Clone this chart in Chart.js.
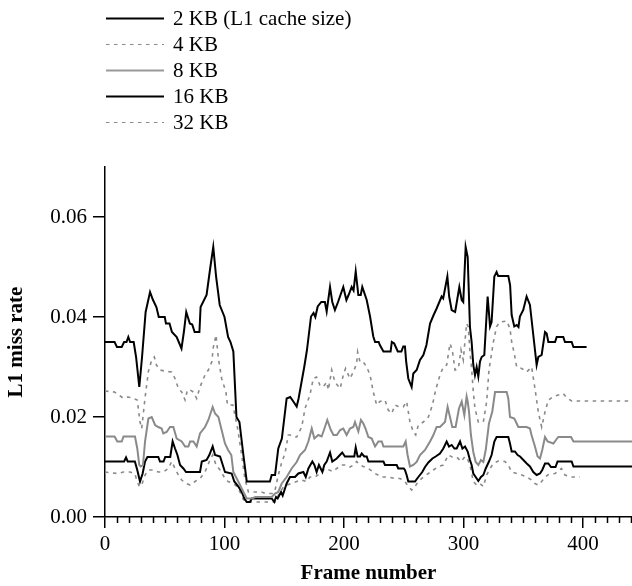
<!DOCTYPE html>
<html>
<head>
<meta charset="utf-8">
<script src="https://cdn.jsdelivr.net/npm/chart.js@4/dist/chart.umd.min.js"></script>
<style>
  html, body { margin: 0; padding: 0; background: #fff; }
  canvas { display: block; }
</style>
</head>
<body>
<canvas id="c" width="632" height="586"></canvas>
<script>
// ---- data ----
const seriesLabels = ["2 KB (L1 cache size)", "4 KB", "8 KB", "16 KB", "32 KB"];
const xTickValues = [0, 100, 200, 300, 400];
const yTickValues = [0.00, 0.02, 0.04, 0.06];

const frames2KB = [0,8,10,14,16,18,19.5,21,24,26,28.7,31,34,37.7,40,43,45,50,51,54,56,60,64,66,68,71,73,75,79,80,85,88,90.6,93,96,100,103,105,107.4,110,112.5,115.8,118.6,138,139.5,142.3,145,148,152,155,157.6,160.4,162,166.8,169,172.4,174.5,176,178,181,184,185.5,188.3,190.2,192.4,195,199.4,202,204,206.4,208,209.8,212,214,215.3,219,221.8,224.5,226,229,230,233,239,240,242,245,248,249.6,251,252,253.8,256.6,258,260.8,263.6,266.4,269,272,275,277.5,281.7,283,286.5,288,290.1,293,296.5,298.5,299.8,301.8,303.5,305.4,306.8,308.2,309.6,311,312.4,313.8,315.2,317.4,320.2,322.2,323.5,325.8,327.7,329,337.5,339,340.3,342.5,344.5,346,347.2,350,352.8,355.6,358.4,361.2,362.6,365.4,368.2,369.6,371,376.6,378,383.5,384.9,390.5,392,403];
const miss2KB = [0.035,0.035,0.034,0.034,0.035,0.035,0.036,0.035,0.035,0.032,0.026,0.032,0.041,0.045,0.0435,0.042,0.040,0.040,0.0387,0.0387,0.037,0.036,0.0337,0.037,0.041,0.0387,0.0385,0.037,0.037,0.042,0.0444,0.0497,0.054,0.048,0.0424,0.040,0.036,0.035,0.0331,0.020,0.019,0.0124,0.0071,0.0071,0.0084,0.0084,0.0137,0.0157,0.0237,0.024,0.0231,0.0221,0.0237,0.0301,0.0334,0.0401,0.0408,0.040,0.0421,0.043,0.043,0.0411,0.046,0.043,0.0414,0.043,0.046,0.0434,0.0445,0.046,0.0453,0.0491,0.0444,0.0444,0.046,0.0434,0.0401,0.0361,0.035,0.035,0.0344,0.0331,0.0331,0.035,0.0347,0.0331,0.0331,0.0341,0.0341,0.0311,0.0277,0.026,0.0287,0.0294,0.0314,0.0324,0.0344,0.0387,0.0404,0.0417,0.0441,0.0437,0.0481,0.0441,0.0414,0.041,0.046,0.0434,0.043,0.054,0.052,0.038,0.035,0.0304,0.0284,0.030,0.0281,0.0311,0.032,0.0324,0.0441,0.0381,0.039,0.0481,0.049,0.0482,0.0482,0.0464,0.0404,0.0381,0.0384,0.038,0.0401,0.0414,0.0441,0.0424,0.0364,0.0304,0.032,0.0324,0.037,0.0367,0.035,0.035,0.036,0.036,0.035,0.035,0.034,0.034];

const frames4KB = [0,8,11,15,19,23,27,29.3,30.7,33.5,36.3,39.1,41.3,43,46,51.6,55.8,58.6,61.4,64.2,67,69,71.2,74,76.7,79.5,83.7,86.5,89.3,90.7,92.9,94.9,97.6,101.2,102.5,107,111,114,117,120,131,134,140,142,145,148,150.6,153.4,155,157.6,160.4,164.6,167.4,171.5,174.3,177,179.8,182.6,185.5,186.9,189.7,192.4,196.8,199.4,201.3,205,207.8,210.6,211.4,213.4,216.2,219,221.8,224.5,227.3,230,234.3,237,239.9,242.7,245.4,249.6,252.4,255.2,258,260,262.2,266.4,270.6,274,276.7,280.3,283.1,285.9,288.7,290.6,292.9,295.7,297.9,299.8,302.6,304,305.4,306.8,308.2,309.6,312.4,316.6,319.4,321.3,325,327.7,330.5,336.1,338.9,340.3,342.5,344.5,348.7,352.9,357,359.8,362.6,365.4,368.2,371,375.2,379.3,383.4,386.2,390.5,441];
const miss4KB = [0.0252,0.025,0.0245,0.0238,0.024,0.0238,0.0234,0.019,0.0177,0.0238,0.0291,0.0314,0.032,0.0304,0.0294,0.0291,0.029,0.0277,0.0257,0.025,0.0234,0.0254,0.0254,0.025,0.0237,0.026,0.0284,0.0294,0.031,0.034,0.0364,0.0317,0.0277,0.025,0.0224,0.0224,0.0177,0.013,0.0077,0.005,0.005,0.0047,0.0047,0.005,0.0084,0.011,0.0127,0.0164,0.0164,0.016,0.016,0.018,0.0217,0.0244,0.0277,0.028,0.0264,0.026,0.027,0.0254,0.0294,0.027,0.0257,0.0284,0.0297,0.0277,0.029,0.0307,0.033,0.031,0.031,0.030,0.0284,0.025,0.0224,0.0231,0.0234,0.0214,0.0207,0.0224,0.0221,0.022,0.0231,0.019,0.017,0.0164,0.0184,0.019,0.020,0.0224,0.0254,0.0284,0.030,0.0304,0.0347,0.0334,0.0294,0.0297,0.0334,0.0314,0.0387,0.038,0.033,0.0297,0.025,0.0217,0.019,0.019,0.0231,0.0294,0.035,0.0381,0.039,0.0392,0.0377,0.035,0.0327,0.030,0.0297,0.029,0.030,0.0257,0.021,0.018,0.021,0.0234,0.0241,0.0244,0.0247,0.0239,0.0232,0.0232];

const frames8KB = [0,8,10.3,14,15.5,25.1,27,28.7,30,31.8,33.5,36.3,39.1,41.9,44.6,47.4,48.8,51.6,54.4,57.2,60,64.2,67,69.8,71.2,74,76.7,79.5,83.7,86.5,90.1,92.1,94.9,97.6,100.4,103,105.7,107.4,110.2,113,115.8,118.6,122.8,126,139.5,142.3,145,147.9,152,156.2,160.4,163.2,167.4,170.2,173,175.2,178.5,181.3,183.2,186,189,191.2,194,196.8,199.4,202.2,205,207.8,209.2,212,214.2,216.2,218,220.4,223.2,226,228.8,231.6,233,249.6,251.6,253.2,255.2,258,260.8,263.6,267.8,272,274.8,277.5,280.3,284.5,286.7,288.7,290.6,293.4,296.2,298.5,300.7,302.6,303.5,304.6,306.2,308.2,310.2,312.4,314.6,316.6,318.6,321.3,324.1,326.4,336.1,337.5,338.9,342.5,344.5,345.9,352.9,355.6,356.9,359.8,362,364,365.9,368.2,370.4,375.2,378,379.3,390,392,441];
const miss8KB = [0.0161,0.0161,0.0151,0.0151,0.0161,0.0161,0.0137,0.0104,0.0101,0.0104,0.0151,0.0197,0.020,0.0184,0.018,0.0177,0.0167,0.017,0.018,0.018,0.0157,0.0151,0.0141,0.0141,0.0151,0.0151,0.0141,0.0167,0.018,0.0194,0.022,0.0207,0.020,0.0174,0.0147,0.0134,0.0124,0.009,0.0077,0.0064,0.005,0.0037,0.0037,0.004,0.004,0.0047,0.005,0.0067,0.008,0.0097,0.011,0.0124,0.0134,0.0151,0.0177,0.0157,0.0164,0.0161,0.0174,0.0194,0.0174,0.0164,0.0164,0.0174,0.0177,0.0164,0.0177,0.018,0.019,0.0171,0.0194,0.0187,0.0177,0.016,0.0157,0.0141,0.0151,0.0151,0.0141,0.0141,0.0151,0.0124,0.0101,0.0104,0.011,0.0124,0.0134,0.0151,0.0164,0.018,0.018,0.019,0.022,0.020,0.018,0.018,0.0217,0.0231,0.0204,0.0241,0.0231,0.0211,0.0164,0.013,0.011,0.0104,0.0114,0.011,0.0134,0.0187,0.0211,0.025,0.025,0.0237,0.020,0.0197,0.0187,0.018,0.018,0.0177,0.0164,0.0141,0.0121,0.0117,0.0134,0.016,0.0151,0.0147,0.0156,0.016,0.016,0.0151,0.0151];

const frames16KB = [0,16,17.6,19,25,27,29.3,31.5,33.5,35.5,44.6,46,49,50.4,54.6,56.6,58.6,60.6,62.8,65.6,67.8,79.5,81,85,87.3,90.1,92.1,96.3,100.4,106,108.2,111.6,114.4,116.6,118.6,121.4,122.8,139.5,141.7,143.1,144.5,147.3,148.7,152,154.8,159,161.8,166,168,170.2,173.5,175.2,177.1,179,181.9,183.5,185.5,188.3,190.2,193.9,196.6,198.5,200.8,208.6,209.8,211.4,213.4,214.8,217,219,220.4,233,234.3,244.1,245.4,250,251,252.4,253.8,259.4,262.2,265.5,267.8,270.6,274,276.7,280.3,283.1,285.9,287.9,290.1,292.4,294.3,297.1,299.1,301.3,303.5,305.4,306.8,308.2,310.2,312.4,314.6,316.6,318.6,321.3,323.5,325.8,327.7,337.5,338.9,340.3,343,345.3,347.3,350.1,352.9,355.6,358.4,361.2,364,365.9,368.2,371,373.2,377,378.7,390.5,392,441];
const miss16KB = [0.0111,0.0111,0.0119,0.0111,0.0111,0.0094,0.0071,0.0087,0.0111,0.012,0.012,0.0111,0.0111,0.012,0.012,0.0151,0.0137,0.0124,0.0104,0.0097,0.009,0.009,0.0111,0.0114,0.0124,0.0141,0.0124,0.0121,0.009,0.0087,0.0071,0.0061,0.005,0.0037,0.003,0.003,0.0037,0.0037,0.003,0.004,0.0037,0.005,0.0043,0.0067,0.008,0.008,0.0087,0.009,0.008,0.0097,0.0111,0.0104,0.009,0.0104,0.009,0.0104,0.0111,0.0129,0.0111,0.0117,0.0124,0.0129,0.0121,0.0121,0.0139,0.0121,0.0121,0.0127,0.0121,0.0121,0.0111,0.0111,0.0104,0.0104,0.0097,0.0097,0.0094,0.0084,0.0071,0.0071,0.008,0.009,0.010,0.0109,0.0117,0.0121,0.0127,0.0137,0.0151,0.0141,0.0144,0.0137,0.0137,0.0151,0.0137,0.0141,0.0131,0.0114,0.0104,0.0087,0.008,0.0072,0.008,0.0084,0.0097,0.0111,0.0124,0.0151,0.016,0.016,0.0147,0.0131,0.0131,0.0124,0.0121,0.0114,0.0107,0.0101,0.009,0.0084,0.0087,0.0094,0.0107,0.0107,0.010,0.010,0.0111,0.0111,0.0101,0.0101];

const frames32KB = [0,6,11,15.5,21,25,27,28.7,30.7,33.5,36.3,40.5,44.6,48.8,53,55.8,58.6,61.4,64.2,67.8,71.2,75.3,79.5,83.7,87.3,90.1,92.9,96.3,100.4,103,107.4,110.2,113,115.8,118.6,142.3,143.7,146.5,149.3,152,156.2,160.4,164.6,168.8,171.5,175.7,179.9,184,187.7,191,193.9,198,202,205,208,210.6,213.4,216.2,220.4,226,231.6,237.1,242.7,246.9,251,253.8,256.6,259.4,262.2,266.4,270.6,274.8,278.9,283.1,287.3,290.6,294.3,297.9,301.3,303,305.4,308.2,311,313.8,316.6,319.4,322.2,325,329.1,334.7,337.5,340.3,344.5,348.7,352.9,357,359.8,362.6,365.4,368.2,371,376.6,382,384.9,390.5,397.4];
const miss32KB = [0.009,0.0088,0.0087,0.009,0.009,0.0086,0.0071,0.0061,0.0064,0.0084,0.0094,0.0094,0.009,0.009,0.0097,0.0111,0.0097,0.0084,0.0074,0.0067,0.0064,0.0071,0.0077,0.009,0.0111,0.0124,0.0104,0.0094,0.0077,0.0071,0.0067,0.0061,0.005,0.0035,0.003,0.003,0.0037,0.005,0.006,0.0064,0.0067,0.0071,0.0074,0.0071,0.008,0.008,0.0087,0.0097,0.0094,0.0091,0.0097,0.0104,0.0104,0.010,0.0104,0.0111,0.0104,0.0101,0.0097,0.0087,0.008,0.008,0.0077,0.0077,0.0071,0.0061,0.0054,0.0061,0.0071,0.008,0.0087,0.0094,0.0101,0.0104,0.0124,0.012,0.012,0.0111,0.0121,0.0118,0.0104,0.0071,0.0064,0.0067,0.0061,0.0084,0.0097,0.0107,0.0112,0.0111,0.0104,0.009,0.0087,0.0084,0.008,0.0074,0.0067,0.0064,0.0071,0.008,0.0085,0.0087,0.0097,0.0084,0.008,0.008];

// ---- build ----
const FONT = "'Liberation Serif', 'Times New Roman', serif";
const GRAY = '#8a8a8a';
const DASH = [3.5, 4.5];

function pts(xs, ys) { return xs.map((x, i) => ({ x: x, y: ys[i] })); }

const styles = [
  { color: '#000', width: 2, dash: [], legendWidth: 2 },
  { color: GRAY, width: 1.6, dash: DASH, legendWidth: 1.2 },
  { color: GRAY, width: 2, dash: [], legendWidth: 2 },
  { color: '#000', width: 2, dash: [], legendWidth: 2 },
  { color: GRAY, width: 1.6, dash: DASH, legendWidth: 1.2 }
];
const xsAll = [frames2KB, frames4KB, frames8KB, frames16KB, frames32KB];
const ysAll = [miss2KB, miss4KB, miss8KB, miss16KB, miss32KB];

const datasets = seriesLabels.map((lab, i) => ({
  label: lab,
  data: pts(xsAll[i], ysAll[i]),
  borderColor: styles[i].color,
  borderWidth: styles[i].width,
  borderDash: styles[i].dash,
  pointRadius: 0,
  tension: 0,
  fill: false
}));

const customPlugin = {
  id: 'custom',
  afterDraw(chart) {
    const ctx = chart.ctx;
    const xs = chart.scales.x;
    // minor x ticks
    ctx.save();
    ctx.strokeStyle = '#000';
    ctx.lineWidth = 1.5;
    const yb = chart.chartArea.bottom;
    for (let v = 10; v <= 440; v += 10) {
      if (v % 100 === 0) continue;
      const px = Math.round(xs.getPixelForValue(v)) + 0.5;
      ctx.beginPath();
      ctx.moveTo(px, yb);
      ctx.lineTo(px, yb + 6);
      ctx.stroke();
    }
    ctx.restore();
    // legend
    ctx.save();
    ctx.font = "21px " + FONT;
    ctx.textBaseline = 'middle';
    ctx.fillStyle = '#000';
    seriesLabels.forEach((lab, i) => {
      const y = 18.5 + 26 * i;
      ctx.beginPath();
      ctx.strokeStyle = styles[i].color === GRAY && styles[i].dash.length === 0 ? '#999' : styles[i].color;
      ctx.lineWidth = styles[i].legendWidth;
      ctx.setLineDash(styles[i].dash);
      ctx.moveTo(106, y);
      ctx.lineTo(164, y);
      ctx.stroke();
      ctx.setLineDash([]);
      ctx.fillText(lab, 173, y + 1);
    });
    ctx.restore();
  }
};

new Chart(document.getElementById('c'), {
  type: 'line',
  data: { datasets: datasets },
  plugins: [customPlugin],
  options: {
    responsive: false,
    animation: false,
    devicePixelRatio: 1,
    layout: { padding: { top: 167, left: 0, right: 0, bottom: 0 } },
    plugins: { legend: { display: false }, tooltip: { enabled: false } },
    scales: {
      x: {
        type: 'linear',
        min: 0,
        max: 441,
        afterFit(s) { s.height = 69; },
        afterBuildTicks(s) { s.ticks = xTickValues.map(v => ({ value: v })); },
        ticks: {
          includeBounds: false,
          stepSize: 100,
          padding: 4,
          color: '#000',
          font: { family: FONT, size: 21 },
          maxRotation: 0,
          autoSkip: false
        },
        grid: { drawOnChartArea: false, drawTicks: true, tickLength: 11, color: '#000', lineWidth: 1.5 },
        border: { color: '#000', width: 1.5 },
        title: { display: true, text: 'Frame number', color: '#000', font: { family: FONT, size: 21, weight: 'bold' }, padding: { top: 0, bottom: 0 } }
      },
      y: {
        min: 0,
        max: 0.07,
        afterFit(s) { s.width = 105; },
        afterBuildTicks(s) { s.ticks = yTickValues.map(v => ({ value: v })); },
        ticks: {
          includeBounds: false,
          padding: 6,
          color: '#000',
          font: { family: FONT, size: 21 },
          callback: v => Number(v).toFixed(2)
        },
        grid: { drawOnChartArea: false, drawTicks: true, tickLength: 12, color: '#000', lineWidth: 1.5 },
        border: { color: '#000', width: 1.5 },
        title: { display: true, text: 'L1 miss rate', color: '#000', font: { family: FONT, size: 21, weight: 'bold' }, padding: { top: 4, bottom: 0 } }
      }
    }
  }
});
</script>
</body>
</html>
